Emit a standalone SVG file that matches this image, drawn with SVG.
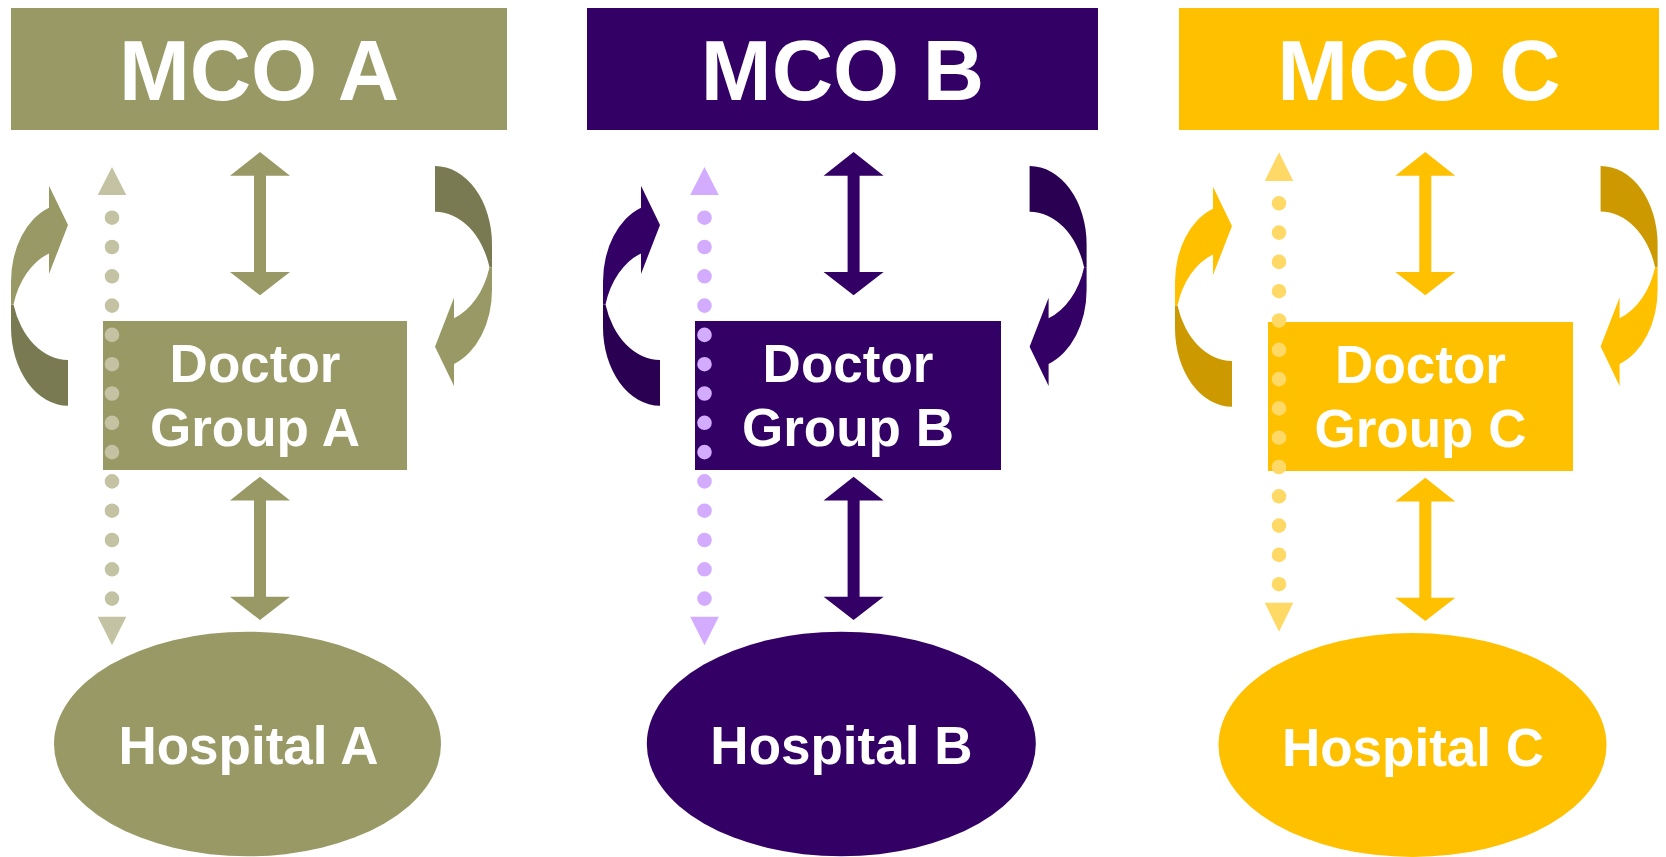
<svg xmlns="http://www.w3.org/2000/svg" xmlns:xlink="http://www.w3.org/1999/xlink" width="1666" height="857" viewBox="0 0 1666 857">
  <style>
    .lbl { font-family: "Liberation Sans", Arial, sans-serif; font-weight: bold; fill: #ffffff; text-anchor: middle; }
    .big { font-size: 85px; }
    .mid { font-size: 53px; }
    .a { fill: #999966; }
    .a-dk { fill: #7a7a52; }
    .a-lt { fill: #c3c3a4; }
    .a-dots { stroke: #c3c3a4; }
    .b { fill: #330066; }
    .b-dk { fill: #290052; }
    .b-lt { fill: #d4acff; }
    .b-dots { stroke: #d4acff; }
    .c { fill: #ffc000; }
    .c-dk { fill: #cc9a00; }
    .c-lt { fill: #ffd966; }
    .c-dots { stroke: #ffd966; }
    .dots { fill: none; stroke-width: 14.6; stroke-linecap: round; stroke-dasharray: 0 29.3; }
  </style>
  <defs>
    <!-- curved loop arrow, tail end at x=0: back crescent and front crescent with head -->
    <path id="loopBack" d="M 0 405.7 A 57 78.4 0 0 1 -57 327.3 L -57 304.45 L -54.5 304.45 A 57 78.4 0 0 0 0 360 Z"/>
    <path id="loopFront" d="M -57 304.45 L -57 281.6 A 57 78.4 0 0 1 -19 207.7 L -19 185.7 L 0 225 L -19 274 L -19 253.4 A 57 78.4 0 0 0 -54.5 304.45 Z"/>
    <!-- two-headed block arrow, 143.3 long, centred on x=0 -->
    <polygon id="dblArrow" points="0,0 30,23.7 6,23.7 6,120 30,120 0,143.3 -30,120 -6,120 -6,23.7 -30,23.7"/>
  </defs>

  <!-- column A -->
  <g id="mco-a">
    <rect class="a" x="11" y="8" width="496" height="122"/>
    <text class="lbl big" x="259" y="100">MCO A</text>
  </g>
  <g id="doctor-a">
    <rect class="a" x="103" y="321" width="304" height="149"/>
    <text class="lbl mid" x="255" y="382">Doctor</text>
    <text class="lbl mid" x="255" y="446">Group A</text>
  </g>
  <g id="hospital-a">
    <ellipse class="a" cx="247.5" cy="744" rx="193.5" ry="112.3"/>
    <text class="lbl mid" x="248.5" y="764">Hospital A</text>
  </g>

  <!-- column B -->
  <g id="mco-b">
    <rect class="b" x="587" y="8" width="511" height="122"/>
    <text class="lbl big" x="842.5" y="100">MCO B</text>
  </g>
  <g id="doctor-b">
    <rect class="b" x="695" y="321" width="306" height="149"/>
    <text class="lbl mid" x="848" y="382">Doctor</text>
    <text class="lbl mid" x="848" y="446">Group B</text>
  </g>
  <g id="hospital-b">
    <ellipse class="b" cx="841.3" cy="744" rx="194.5" ry="112.3"/>
    <text class="lbl mid" x="841.4" y="764">Hospital B</text>
  </g>

  <!-- column C -->
  <g id="mco-c">
    <rect class="c" x="1179" y="8" width="480" height="122"/>
    <text class="lbl big" x="1419" y="100">MCO C</text>
  </g>
  <g id="doctor-c">
    <rect class="c" x="1268" y="322" width="305" height="149"/>
    <text class="lbl mid" x="1420.5" y="382.7">Doctor</text>
    <text class="lbl mid" x="1420.5" y="446.7">Group C</text>
  </g>
  <g id="hospital-c">
    <ellipse class="c" cx="1412.5" cy="745" rx="194" ry="112"/>
    <text class="lbl mid" x="1413" y="765.7">Hospital C</text>
  </g>

  <g id="connectors">
    <!-- A: MCO <-> doctors, doctors <-> hospital -->
    <use xlink:href="#dblArrow" class="a" transform="translate(260,152)"/>
    <use xlink:href="#dblArrow" class="a" transform="translate(260,476.7)"/>
    <!-- A: dotted MCO <-> hospital link -->
    <line class="dots a-dots" x1="112" y1="217.7" x2="112" y2="598.7"/>
    <polygon class="a-lt" points="112,167 126.3,195 97.7,195"/>
    <polygon class="a-lt" points="97.7,616.7 126.3,616.7 112,645.3"/>
    <!-- A: loops -->
    <g transform="translate(68,0)">
      <use xlink:href="#loopBack" class="a-dk"/>
      <use xlink:href="#loopFront" class="a"/>
    </g>
    <g transform="rotate(180,251.5,285.85) translate(68,0)">
      <use xlink:href="#loopBack" class="a-dk"/>
      <use xlink:href="#loopFront" class="a"/>
    </g>

    <!-- B -->
    <use xlink:href="#dblArrow" class="b" transform="translate(853.6,152)"/>
    <use xlink:href="#dblArrow" class="b" transform="translate(853.6,476.7)"/>
    <line class="dots b-dots" x1="704.5" y1="217.7" x2="704.5" y2="598.7"/>
    <polygon class="b-lt" points="704.5,167 718.8,195 690.2,195"/>
    <polygon class="b-lt" points="690.2,616.7 718.8,616.7 704.5,645.3"/>
    <g transform="translate(660,0)">
      <use xlink:href="#loopBack" class="b-dk"/>
      <use xlink:href="#loopFront" class="b"/>
    </g>
    <g transform="rotate(180,844.8,285.85) translate(660,0)">
      <use xlink:href="#loopBack" class="b-dk"/>
      <use xlink:href="#loopFront" class="b"/>
    </g>

    <!-- C -->
    <use xlink:href="#dblArrow" class="c" transform="translate(1425.3,152)"/>
    <use xlink:href="#dblArrow" class="c" transform="translate(1425.3,477.7)"/>
    <line class="dots c-dots" x1="1279" y1="203.3" x2="1279" y2="585"/>
    <polygon class="c-lt" points="1279,152.3 1293.3,181 1264.7,181"/>
    <polygon class="c-lt" points="1264.7,602.7 1293.3,602.7 1279,631.7"/>
    <g transform="translate(1232,1)">
      <use xlink:href="#loopBack" class="c-dk"/>
      <use xlink:href="#loopFront" class="c"/>
    </g>
    <g transform="rotate(180,1416.3,286.3) translate(1232,1)">
      <use xlink:href="#loopBack" class="c-dk"/>
      <use xlink:href="#loopFront" class="c"/>
    </g>
  </g>
</svg>
